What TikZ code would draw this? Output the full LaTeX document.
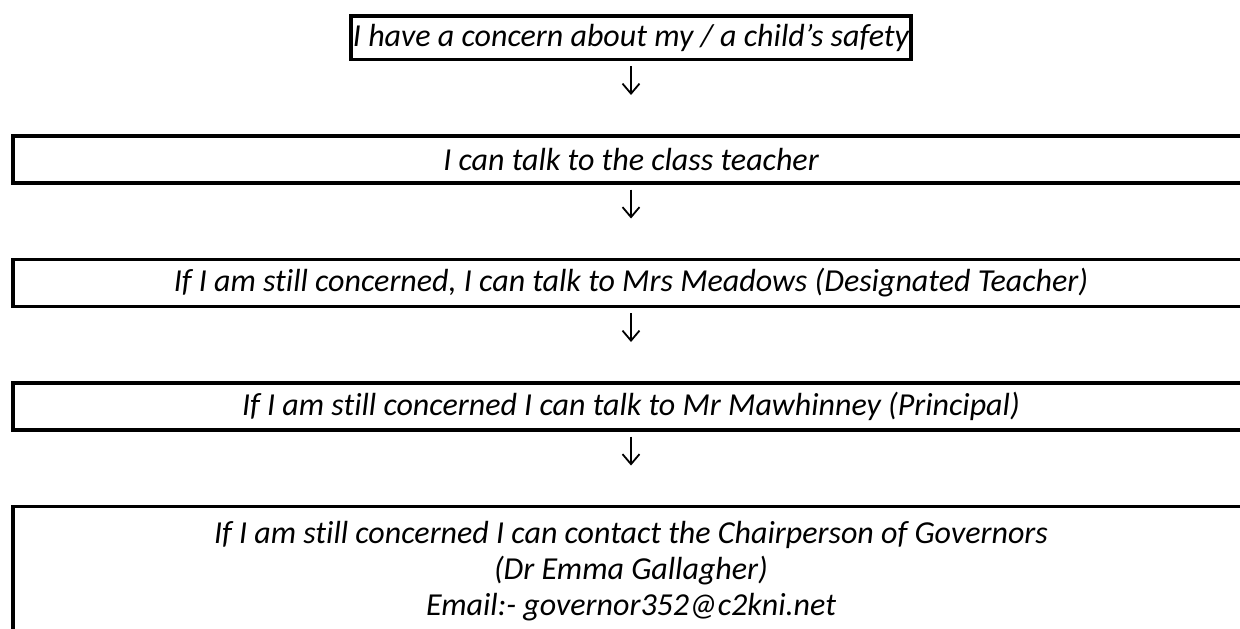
\documentclass[tikz,border=0pt]{standalone}
\usepackage{fontspec}
\setmainfont[Ligatures=NoCommon]{Carlito}
\usetikzlibrary{positioning,arrows.meta}

\begin{document}
\begin{tikzpicture}[every node/.style={font=\fontsize{16}{18}\selectfont\itshape},node distance=36.5pt,
  box/.style={draw,line width=1.75pt,inner sep=1pt},
  wide/.style={box,minimum width=618pt,minimum height=23.5pt},
  down/.style={-{Straight Barb[length=5pt,width=8.5pt]},line width=.9pt,shorten <=2.5pt,shorten >=19.5pt}]
  \useasboundingbox (0,0) rectangle (620pt,-314pt);
  \node[box,minimum height=21.75pt,anchor=north] (concern) at (315.5pt,-7pt) {I have a concern about my / a child’s safety};
  \node[wide,below=of concern] (teacher) {I can talk to the class teacher};
  \node[wide,below=of teacher] (designated) {If I am still concerned, I can talk to Mrs Meadows (Designated Teacher)};
  \node[wide,below=of designated] (principal) {If I am still concerned I can talk to Mr Mawhinney (Principal)};
  \node[wide,below=of principal,align=center,inner ysep=7.5pt] (governors) {If I am still concerned I can contact the Chairperson of Governors\\(Dr Emma Gallagher)\\Email:- governor352@c2kni.net};
  \draw[down] (concern) -- (teacher);
  \draw[down] (teacher) -- (designated);
  \draw[down] (designated) -- (principal);
  \draw[down] (principal) -- (governors);
\end{tikzpicture}
\end{document}
